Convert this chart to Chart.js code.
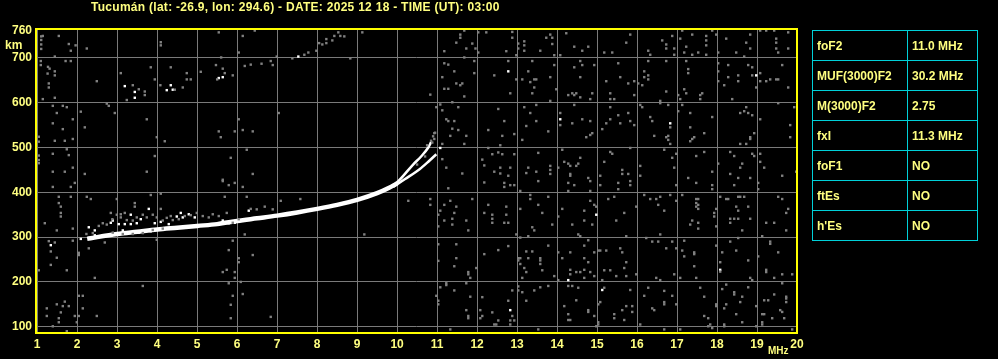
<!DOCTYPE html>
<html>
<head>
<meta charset="utf-8">
<script src="https://cdn.jsdelivr.net/npm/chart.js@4.4.1/dist/chart.umd.min.js"></script>
<style>
  html, body { margin: 0; padding: 0; background: #000; }
  body { width: 998px; height: 359px; position: relative; overflow: hidden; font-family: "Liberation Sans", Arial, sans-serif; font-weight: bold; color: #ffff80; }
  #title { position: absolute; left: 91px; top: 0px; font-size: 12px; line-height: 14px; letter-spacing: 0.28px; white-space: nowrap; }
  #km { position: absolute; left: 5px; top: 38px; font-size: 12px; }
  #mhz { position: absolute; left: 768px; top: 345px; font-size: 10px; }
  #params { position: absolute; left: 812px; top: 30px; border-collapse: collapse; font-size: 12px; }
  #params td { border: 1px solid #00d0d8; height: 29px; padding: 0 0 0 4px; white-space: nowrap; }
  #params td:first-child { width: 90px; }
  #params td:last-child { width: 65px; }
</style>
</head>
<body>
<div id="title">Tucumán (lat: -26.9, lon: 294.6) - DATE: 2025 12 18 - TIME (UT): 03:00</div>
<canvas id="c" width="998" height="359"></canvas>
<div id="km">km</div>
<div id="mhz">MHz</div>
<table id="params"></table>
<script>
// scaled parameters shown in the side table
const paramNames = ['foF2', 'MUF(3000)F2', 'M(3000)F2', 'fxI', 'foF1', 'ftEs', "h'Es"];
const paramValues = ['11.0 MHz', '30.2 MHz', '2.75', '11.3 MHz', 'NO', 'NO', 'NO'];

const freqTicks = [1, 2, 3, 4, 5, 6, 7, 8, 9, 10, 11, 12, 13, 14, 15, 16, 17, 18, 19, 20];
const heightTicks = [100, 200, 300, 400, 500, 600, 700, 760];

// F-layer trace [MHz, km]
const traceO = [[2.25, 296], [2.5, 300], [3, 307], [3.5, 312], [4, 317], [4.5, 321], [5, 325],
  [5.5, 329], [6, 336], [6.5, 342], [7, 348], [7.5, 355], [8, 363], [8.5, 372], [9, 383],
  [9.5, 398], [9.8, 410], [10.0, 420]];
// split branches near the critical frequency
const traceB1 = [[9.7, 404], [10.03, 425], [10.4, 462], [10.6, 480], [10.78, 500], [10.85, 512]];
const traceB2 = [[9.9, 412], [10.19, 429], [10.57, 452], [10.8, 470], [10.98, 485]];

// spread echoes above the trace
const spreadWhite = [[2.09, 296], [2.29, 322], [2.44, 315], [2.44, 304], [2.64, 304], [2.84, 332],
  [2.89, 337], [3.04, 329], [3.19, 329], [3.34, 329], [3.14, 315], [3.24, 309], [3.49, 331],
  [3.59, 340], [3.54, 310], [3.69, 315], [3.79, 363], [3.94, 331], [3.84, 313], [4.09, 334],
  [3.34, 350], [4.49, 346], [4.59, 354], [4.64, 344], [4.79, 351], [4.94, 344], [4.29, 329],
  [5.64, 337], [5.79, 331], [5.94, 332], [6.29, 359], [1.34, 282]];
const spreadGray = [[2.23, 307], [2.39, 309], [2.54, 325], [2.64, 331], [2.74, 328], [2.88, 340],
  [2.99, 350], [3.09, 344], [3.19, 354], [3.24, 338], [3.39, 337], [3.49, 344], [3.64, 350],
  [3.74, 344], [3.89, 350], [3.99, 344], [4.14, 337], [4.24, 343], [4.34, 347], [4.39, 338],
  [4.54, 340], [4.69, 347], [4.84, 349], [4.99, 354], [5.14, 347], [5.29, 344], [5.39, 351],
  [5.54, 347], [5.74, 354], [5.89, 332], [6.04, 340], [6.34, 363], [6.49, 362], [6.69, 368],
  [6.89, 362], [2.89, 310], [3.14, 307], [3.39, 307], [3.64, 309], [3.89, 316], [4.14, 319],
  [3.09, 351], [10.75, 505], [10.85, 515], [10.9, 525], [10.95, 533], [10.7, 480], [10.5, 462]];

// background noise, upper part
const noiseTop = [[1.1, 748], [1.1, 740], [1.1, 730], [1.1, 720], [1.14, 749], [1.54, 749], [1.79, 731],
  [1.84, 716], [1.96, 728], [2.24, 721], [4.09, 728], [4.09, 735], [5.54, 757], [6.14, 749],
  [6.44, 761], [6.04, 712], [5.6, 701], [6.99, 703], [1.09, 693], [1.09, 684], [1.27, 680],
  [1.31, 676], [1.26, 665], [1.44, 703], [1.44, 670], [1.44, 661], [1.71, 693], [1.84, 693],
  [1.29, 643], [1.29, 634], [1.14, 608], [1.44, 611], [2.49, 648], [3.09, 666], [3.39, 639],
  [3.54, 630], [3.69, 625], [3.69, 617], [3.24, 606], [3.84, 679], [3.94, 652], [4.08, 639],
  [4.44, 629], [4.64, 634], [4.34, 679], [4.74, 666], [4.74, 652], [4.84, 652], [5.09, 669],
  [5.47, 684], [5.64, 676], [5.69, 666], [5.5, 652], [5.89, 661], [6.19, 682], [6.34, 685],
  [6.61, 687], [6.84, 693], [6.89, 684], [1.39, 593], [1.64, 593], [1.74, 590], [1.49, 577],
  [1.39, 554], [1.64, 541], [1.89, 563], [2.09, 580], [2.19, 545], [1.04, 524], [1.04, 513],
  [1.44, 515], [1.69, 515], [1.89, 519], [2.74, 598], [2.79, 593], [2.94, 577], [3.74, 563],
  [3.99, 523], [4.19, 514], [5.54, 536], [5.59, 523], [5.94, 536], [6.14, 539], [6.39, 536],
  [6.04, 563], [7.04, 577], [1.04, 482], [1.04, 472], [1.04, 465], [1.39, 486], [1.74, 496],
  [1.79, 483], [1.89, 455], [1.39, 446], [1.69, 446], [2.19, 441], [3.94, 481], [3.74, 446],
  [5.84, 477], [6.24, 495], [6.39, 441], [5.64, 428],
  [7.38, 699], [7.68, 707], [7.78, 712], [7.98, 716], [8.05, 733], [8.13, 730], [8.23, 742],
  [8.23, 733], [8.38, 739], [8.43, 749], [8.53, 757], [8.58, 749], [8.68, 748], [8.83, 699],
  [9.13, 757], [11.18, 715], [11.48, 734], [11.58, 745], [11.58, 752], [11.68, 761], [11.73, 721],
  [11.88, 732], [11.96, 721], [12.03, 712], [12.23, 757], [12.03, 757], [11.68, 701], [12.88, 758],
  [12.88, 745], [13.03, 732], [13.03, 721], [13.18, 737], [13.18, 728], [13.18, 716], [13.58, 716],
  [12.73, 715], [12.98, 706], [11.18, 688], [11.28, 685], [11.43, 670], [11.13, 657], [11.18, 631],
  [11.28, 631], [11.48, 643], [11.63, 643], [11.58, 639], [11.68, 614], [11.93, 693], [11.93, 666],
  [10.83, 618], [12.43, 661], [12.78, 693], [12.98, 652], [13.13, 652], [13.28, 670], [13.38, 693],
  [13.33, 646], [13.43, 652], [13.48, 652], [13.43, 634], [12.83, 621], [13.38, 621], [10.98, 590],
  [11.08, 596], [11.13, 583], [11.38, 601], [11.23, 563], [11.28, 559], [11.38, 542], [11.53, 539],
  [11.43, 559], [11.33, 526], [11.73, 526], [11.68, 508], [10.93, 532], [10.93, 519], [10.88, 511],
  [11.13, 508], [11.53, 590], [12.28, 539], [12.53, 586], [12.68, 559], [12.63, 526], [12.93, 530],
  [13.23, 548], [13.13, 517], [13.33, 577], [13.48, 559], [13.18, 590], [13.48, 595], [12.58, 505],
  [11.13, 474], [11.23, 455], [11.63, 442], [12.13, 473], [12.18, 460], [12.28, 499], [12.38, 485],
  [12.53, 489], [12.63, 485], [12.43, 446], [12.58, 455], [12.58, 442], [12.83, 455], [12.78, 437],
  [12.93, 485], [13.23, 443], [13.28, 455], [13.48, 446], [13.53, 488],
  [13.73, 745], [13.88, 745], [13.88, 731], [13.83, 752], [13.93, 706], [14.08, 706], [14.23, 755],
  [14.43, 725], [14.78, 725], [14.63, 716], [15.18, 712], [15.38, 712], [15.83, 752], [15.73, 734],
  [16.28, 716], [16.33, 707], [16.63, 739], [16.73, 730], [16.73, 721], [16.88, 749], [16.93, 721],
  [16.93, 707], [17.13, 761], [17.08, 743], [17.18, 712], [17.38, 752], [17.23, 725], [17.38, 707],
  [17.53, 712], [17.73, 707], [17.73, 749], [17.73, 739], [17.73, 728], [17.88, 761], [17.98, 752],
  [18.23, 743], [18.48, 712], [18.73, 734], [18.83, 752], [18.83, 721], [18.68, 703], [19.08, 761],
  [19.23, 761], [19.43, 761], [19.78, 757], [19.48, 743], [19.48, 734], [19.48, 721], [19.53, 712],
  [19.78, 721], [18.03, 712], [13.93, 684], [13.83, 657], [13.83, 604], [13.98, 630], [14.28, 617],
  [14.38, 621], [14.43, 617], [14.48, 621], [14.58, 612], [14.58, 693], [14.43, 679], [14.63, 684],
  [14.58, 657], [14.88, 621], [14.83, 608], [14.93, 684], [15.23, 648], [15.33, 621], [15.33, 608],
  [15.43, 608], [15.53, 688], [15.58, 657], [15.78, 643], [15.93, 648], [15.93, 617], [16.18, 670],
  [16.18, 657], [16.28, 661], [16.28, 652], [16.03, 643], [16.13, 639], [16.28, 693], [16.58, 604],
  [16.73, 625], [16.73, 693], [17.03, 617], [17.08, 608], [17.18, 630], [17.23, 621], [17.28, 675],
  [17.28, 666], [17.23, 693], [17.58, 617], [17.63, 621], [17.58, 608], [18.03, 688], [18.03, 670],
  [18.03, 648], [18.28, 684], [18.28, 657], [18.18, 639], [18.38, 608], [18.53, 661], [18.53, 648],
  [18.78, 684], [18.88, 679], [18.88, 661], [19.08, 666], [19.08, 648], [19.23, 648], [19.33, 652],
  [19.48, 652], [19.53, 652], [19.63, 684], [18.98, 634], [19.78, 634], [14.08, 577], [14.08, 550],
  [13.78, 536], [14.38, 554], [14.43, 595], [14.63, 563], [14.83, 559], [14.88, 532], [14.83, 528],
  [14.73, 523], [15.13, 541], [15.23, 554], [15.33, 563], [15.58, 554], [15.33, 590], [15.53, 572],
  [15.78, 577], [15.83, 559], [15.93, 550], [16.08, 595], [16.13, 590], [16.33, 568], [16.38, 559],
  [16.58, 599], [16.78, 595], [16.83, 545], [16.78, 526], [16.78, 517], [16.73, 523], [16.83, 508],
  [16.43, 526], [17.03, 581], [17.13, 595], [17.33, 577], [17.43, 523], [17.38, 519], [17.33, 514],
  [17.68, 532], [17.88, 568], [18.58, 577], [18.68, 581], [18.73, 590], [18.78, 577], [18.88, 572],
  [18.83, 523], [18.83, 519], [18.58, 508], [18.73, 508], [19.08, 563], [19.53, 599], [19.83, 550],
  [19.83, 523], [19.93, 590], [18.93, 532], [17.33, 545], [13.83, 459], [13.83, 450], [13.83, 441],
  [14.03, 455], [14.13, 495], [14.18, 468], [14.28, 464], [14.33, 459], [14.48, 459], [14.58, 477],
  [14.53, 464], [14.33, 441], [14.33, 437], [14.78, 432], [15.08, 437], [15.18, 468], [15.33, 490],
  [15.38, 486], [15.63, 450], [15.63, 441], [15.78, 441], [15.83, 499], [16.08, 459], [16.08, 437],
  [16.68, 495], [16.88, 477], [16.93, 455], [16.98, 486], [17.48, 481], [17.28, 432], [17.68, 490],
  [17.88, 446], [18.03, 464], [18.33, 490], [18.43, 481], [18.33, 441], [18.63, 464], [18.58, 455],
  [18.53, 432], [18.88, 486], [18.93, 481], [19.08, 486], [19.08, 468], [19.18, 455], [19.63, 437],
  [19.98, 446], [18.83, 432]];

// background noise, lower part
const noiseLow = [[1.39, 412], [1.84, 412], [1.94, 421], [5.64, 425], [5.79, 416], [5.94, 421],
  [6.14, 412], [1.54, 390], [1.54, 376], [1.59, 368], [1.59, 354], [1.59, 346], [1.84, 390],
  [2.24, 390], [2.34, 385], [2.99, 385], [1.19, 331], [1.49, 315], [1.89, 319], [3.44, 376],
  [3.44, 368], [3.84, 394], [4.09, 397], [4.09, 363], [2.84, 354], [5.69, 390], [6.24, 390],
  [7.09, 381], [6.19, 306], [1.29, 291], [1.34, 268], [1.44, 288], [1.89, 292], [2.04, 265],
  [2.04, 260], [1.49, 254], [1.34, 238], [1.74, 226], [2.44, 209], [2.69, 288], [2.29, 275],
  [3.99, 294], [5.89, 292], [5.79, 271], [6.04, 253], [6.04, 244], [6.39, 260], [5.64, 222],
  [5.74, 227], [5.94, 222], [5.94, 209], [3.64, 191], [5.79, 197], [6.09, 200], [5.89, 169],
  [6.14, 173], [5.84, 149], [5.84, 119], [6.84, 122], [2.04, 169], [2.14, 169], [2.14, 141],
  [2.49, 124], [1.24, 141], [1.24, 124], [1.49, 150], [1.64, 146], [1.79, 146], [1.69, 156],
  [1.59, 132], [1.54, 119], [1.54, 110], [1.94, 124], [2.04, 124], [1.99, 110], [1.74, 90],
  [1.04, 226], [1.39, 101], [7.58, 385], [9.18, 306], [10.28, 381], [10.83, 385], [10.83, 372],
  [11.28, 409], [11.03, 350], [11.08, 359], [11.18, 372], [11.33, 381], [11.48, 368], [11.43, 354],
  [11.38, 341], [11.38, 328], [11.18, 337], [11.73, 337], [11.78, 315], [11.88, 385], [11.03, 324],
  [12.18, 354], [12.28, 372], [12.38, 350], [12.38, 341], [12.38, 332], [12.68, 332], [12.78, 332],
  [12.73, 368], [12.73, 350], [13.08, 363], [12.98, 306], [13.08, 299], [13.28, 302], [13.38, 322],
  [13.43, 315], [13.33, 394], [13.33, 385], [13.53, 372], [13.63, 354], [12.68, 421], [12.68, 412],
  [12.83, 416], [12.93, 416], [13.08, 403], [12.18, 422], [13.53, 425], [11.03, 284], [11.03, 247],
  [11.48, 284], [11.48, 253], [11.43, 235], [11.78, 222], [11.78, 217], [11.83, 209], [11.98, 231],
  [12.18, 262], [12.53, 271], [12.78, 280], [13.03, 253], [13.08, 253], [13.03, 248], [13.08, 240],
  [13.18, 231], [13.23, 222], [13.13, 209], [13.23, 268], [13.38, 268], [13.28, 253], [13.58, 253],
  [13.58, 248], [13.58, 240], [13.63, 226], [11.08, 188], [11.23, 197], [11.23, 193], [10.98, 169],
  [11.03, 158], [11.03, 150], [11.43, 181], [11.73, 197], [11.83, 167], [12.13, 166], [11.73, 137],
  [11.78, 119], [11.78, 124], [12.08, 137], [12.13, 124], [12.08, 119], [12.38, 132], [12.43, 105],
  [12.48, 105], [12.53, 114], [12.88, 124], [12.83, 114], [12.83, 105], [12.93, 114], [12.78, 158],
  [12.88, 181], [13.03, 190], [13.03, 181], [13.13, 177], [13.23, 158], [13.43, 181], [13.58, 188],
  [13.53, 94], [11.33, 94], [14.28, 421], [14.43, 416], [14.83, 425], [15.08, 416], [15.53, 421],
  [15.83, 416], [14.28, 403], [14.83, 403], [15.53, 407], [15.83, 425], [16.98, 416], [17.48, 421],
  [17.88, 416], [17.88, 407], [18.43, 416], [19.03, 421], [19.03, 407], [13.78, 390], [14.13, 363],
  [14.03, 346], [13.88, 328], [14.68, 359], [14.68, 337], [14.83, 381], [14.93, 372], [14.98, 368],
  [14.38, 328], [14.88, 328], [14.53, 306], [14.58, 302], [15.28, 385], [15.43, 390], [15.48, 337],
  [15.68, 354], [15.73, 302], [15.98, 368], [16.18, 394], [16.33, 385], [16.48, 385], [16.58, 390],
  [16.83, 394], [16.53, 372], [16.68, 359], [16.58, 306], [16.98, 381], [17.13, 394], [17.48, 385],
  [17.53, 385], [17.48, 376], [17.53, 372], [17.48, 368], [17.53, 363], [17.38, 337], [17.33, 328],
  [17.53, 332], [17.53, 319], [17.93, 354], [17.93, 346], [17.98, 363], [17.98, 324], [18.08, 390],
  [18.23, 385], [18.28, 385], [18.53, 390], [18.58, 390], [18.68, 390], [18.48, 368], [18.53, 359],
  [18.78, 368], [18.33, 341], [18.43, 341], [18.53, 341], [18.33, 332], [18.83, 341], [18.63, 315],
  [19.23, 332], [19.43, 332], [19.53, 390], [19.63, 385], [19.78, 363], [19.73, 354], [19.73, 315],
  [19.13, 302], [13.78, 281], [14.03, 266], [14.33, 266], [14.13, 253], [14.68, 281], [14.68, 253],
  [14.78, 244], [14.78, 293], [14.93, 266], [15.03, 270], [15.08, 270], [15.23, 270], [15.58, 275],
  [15.63, 266], [15.73, 244], [15.68, 231], [15.18, 226], [15.33, 226], [14.33, 227], [14.48, 222],
  [14.58, 222], [14.68, 227], [14.83, 222], [14.33, 217], [13.93, 213], [14.03, 204], [14.68, 209],
  [14.93, 213], [15.13, 204], [15.48, 213], [15.73, 213], [15.98, 217], [16.23, 298], [16.38, 290],
  [16.53, 290], [16.88, 290], [16.73, 275], [16.98, 275], [16.93, 217], [17.08, 209], [16.48, 209],
  [16.58, 204], [17.18, 292], [17.13, 270], [17.18, 257], [17.43, 266], [17.43, 262], [17.43, 235],
  [17.48, 209], [17.98, 281], [18.13, 266], [18.08, 244], [18.08, 223], [18.33, 290], [18.48, 270],
  [18.78, 248], [18.53, 298], [18.83, 209], [18.88, 204], [19.03, 257], [19.23, 227], [19.23, 222],
  [19.33, 290], [19.33, 285], [19.53, 266], [19.43, 209], [19.63, 217], [19.88, 217], [13.78, 191],
  [14.28, 191], [14.38, 191], [14.53, 187], [15.18, 187], [14.48, 159], [14.18, 146], [14.28, 128],
  [14.33, 115], [14.28, 115], [14.78, 137], [14.78, 133], [14.93, 124], [15.03, 150], [15.08, 155],
  [15.03, 110], [14.98, 101], [15.03, 105], [15.43, 128], [15.43, 119], [15.63, 137], [15.73, 146],
  [15.88, 146], [15.88, 133], [15.68, 115], [15.83, 182], [16.08, 105], [16.28, 187], [16.18, 169],
  [16.38, 141], [16.43, 137], [16.68, 180], [16.68, 155], [16.68, 150], [16.88, 169], [16.98, 150],
  [17.08, 94], [17.58, 187], [17.68, 167], [17.68, 124], [17.78, 119], [17.83, 105], [17.78, 101],
  [17.88, 97], [17.98, 150], [17.98, 146], [18.13, 184], [18.23, 194], [18.18, 141], [18.23, 150],
  [18.43, 177], [18.43, 172], [18.48, 128], [18.63, 167], [18.58, 155], [18.63, 110], [18.78, 188],
  [18.98, 146], [19.13, 128], [19.18, 128], [19.13, 110], [19.13, 105], [19.18, 159], [19.28, 159],
  [19.43, 172], [19.38, 119], [19.58, 137], [19.63, 133], [19.73, 167], [19.73, 163], [19.73, 155],
  [19.63, 197], [19.88, 94], [19.68, 119], [18.18, 105], [18.18, 101], [18.98, 101], [16.68, 94]];

// isolated strong echoes in the noise
const noiseWhite = [[3.19, 637], [3.44, 624], [3.44, 611], [4.24, 628], [4.34, 639], [4.39, 629],
  [5.54, 655], [5.64, 657], [7.53, 703], [12.78, 670], [18.98, 661], [14.08, 563], [16.83, 554],
  [11.08, 499], [12.83, 137], [14.98, 350], [14.28, 204], [15.13, 182], [18.08, 227]];

const table = document.getElementById('params');
table.innerHTML = paramNames.map((n, i) => '<tr><td>' + n + '</td><td>' + paramValues[i] + '</td></tr>').join('');

const yellow = '#ffff80';
const pts = arr => arr.map(p => ({ x: p[0], y: p[1] }));
const dots = (arr, color) => ({
  data: pts(arr), pointStyle: 'rect', pointRadius: 1.7, pointBorderWidth: 0,
  backgroundColor: color, borderColor: color, showLine: false
});
const trace = (arr, width) => ({
  data: pts(arr), showLine: true, borderColor: '#ffffff', borderWidth: width,
  pointRadius: 0, cubicInterpolationMode: 'monotone', fill: false
});

const frame = {
  id: 'frame',
  afterDraw(chart) {
    const a = chart.chartArea, c = chart.ctx;
    c.save();
    c.strokeStyle = '#ffff00';
    c.lineWidth = 2;
    c.strokeRect(a.left, a.top, a.right - a.left, a.bottom - a.top);
    c.restore();
  }
};

new Chart(document.getElementById('c'), {
  type: 'scatter',
  data: {
    datasets: [
      dots(noiseTop, '#808080'),
      dots(noiseLow, '#808080'),
      dots(spreadGray, '#808080'),
      dots(noiseWhite, '#ffffff'),
      dots(spreadWhite, '#ffffff'),
      trace(traceO, 4.5),
      trace(traceB1, 2.5),
      trace(traceB2, 2.5)
    ]
  },
  options: {
    responsive: false,
    animation: false,
    layout: { padding: { top: 29, right: 201, left: 0, bottom: 0 } },
    plugins: { legend: { display: false }, tooltip: { enabled: false } },
    scales: {
      x: {
        type: 'linear', min: 0.97, max: 20,
        afterBuildTicks: s => { s.ticks = freqTicks.map(v => ({ value: v })); },
        afterFit: s => { s.height = 26; },
        grid: { color: '#7a7a7a', drawTicks: false },
        border: { display: false },
        ticks: { color: yellow, font: { family: 'Liberation Sans', size: 12, weight: 'bold' }, padding: 4, maxRotation: 0, autoSkip: false }
      },
      y: {
        type: 'linear', min: 86, max: 764.5,
        afterBuildTicks: s => { s.ticks = heightTicks.map(v => ({ value: v })); },
        afterFit: s => { s.width = 36; },
        grid: { color: ctx => (ctx.tick && ctx.tick.value === 760 ? 'rgba(0,0,0,0)' : '#7a7a7a'), drawTicks: false },
        border: { display: false },
        ticks: { color: yellow, font: { family: 'Liberation Sans', size: 12, weight: 'bold' }, padding: 4, autoSkip: false }
      }
    }
  },
  plugins: [frame]
});
</script>
</body>
</html>
